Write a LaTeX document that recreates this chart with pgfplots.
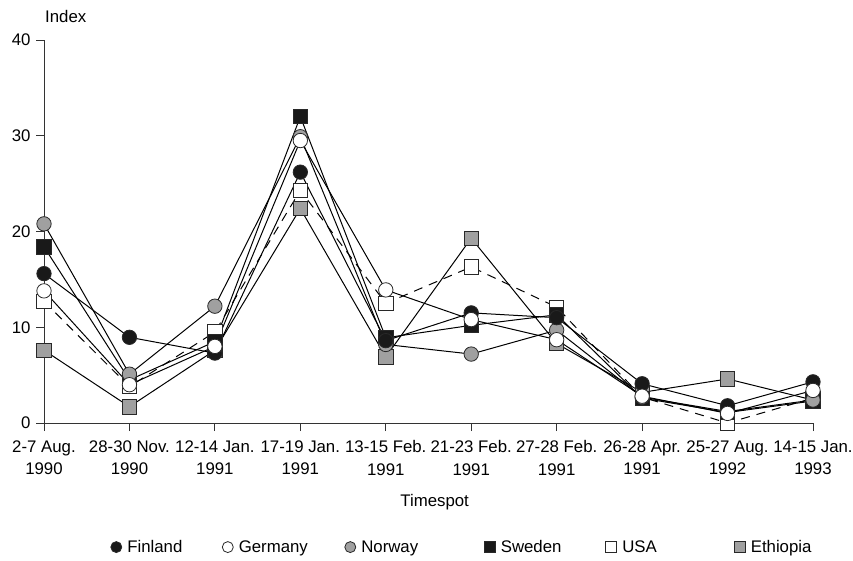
\documentclass[border=0pt]{standalone}
\usepackage{pgfplots}
\pgfplotsset{compat=1.18}
\usepackage{fontspec}
\setmainfont{Liberation Sans}
\definecolor{mgray}{RGB}{160,160,160}
\definecolor{mblack}{RGB}{25,25,25}
\definecolor{edge}{RGB}{40,40,40}
\begin{document}
\begin{tikzpicture}[x=1pt,y=1pt]
\begin{axis}[
  set layers, mark layer=axis foreground,
  at={(44pt,137pt)}, anchor=south west,
  scale only axis, width=769pt, height=383pt,
  xmin=0, xmax=9, ymin=0, ymax=40,
  clip=false,
  axis x line*=bottom, axis y line*=left,
  axis line style={line width=0.9pt, draw=black!80},
  tick style={line width=0.9pt, draw=black!80},
  tick align=outside, major tick length=8pt,
  xtick={0,...,9}, ytick={0,10,20,30,40},
  xticklabels={{2-7 Aug.\\1990},{28-30 Nov.\\1990},{12-14 Jan.\\1991},{17-19 Jan.\\1991},{13-15 Feb.\\1991},{21-23 Feb.\\1991},{27-28 Feb.\\1991},{26-28 Apr.\\1991},{25-27 Aug.\\1992},{14-15 Jan.\\1993}},
  xticklabel style={align=center, font=\fontsize{16.8}{22.7}\selectfont, yshift=-6pt},
  yticklabel style={font=\fontsize{16.8}{19}\selectfont, xshift=-2pt},
  /pgf/number format/assume math mode=true,
  xlabel={Timespot},
  xlabel style={font=\fontsize{16.8}{19}\selectfont, at={(0.508,-0.2193)}, anchor=base},
  every axis plot/.append style={line width=1pt, black},
  mark size=7.2pt,
  legend image code/.code={\draw[#1, only marks, mark size=5.5pt] plot coordinates {(0pt,0pt)};},
  legend style={at={(0.0827,-0.324)}, anchor=west, draw=none, fill=none, legend columns=6,
    font=\fontsize{16.8}{19}\selectfont,
    nodes={inner sep=0pt},
    /tikz/every odd column/.append style={column sep=5.5pt},
    /tikz/every even column/.append style={column sep=0pt}},
  fin/.style={mark=*, mark options={solid, fill=mblack, draw=edge, line width=0.8pt}},
  ger/.style={mark=*, mark options={solid, fill=white, draw=edge, line width=0.8pt}},
  nor/.style={mark=*, mark options={solid, fill=mgray, draw=edge, line width=0.8pt}},
  swe/.style={mark=square*, mark options={solid, fill=mblack, draw=edge, line width=0.8pt}},
  usa/.style={mark=square*, mark options={solid, fill=white, draw=edge, line width=0.8pt}},
  eth/.style={mark=square*, mark options={solid, fill=mgray, draw=edge, line width=0.8pt}},
]
% USA
\addplot[usa, forget plot, dash pattern=on 9pt off 7pt] coordinates {(0,12.7) (1,3.8) (2,9.5) (3,24.3) (4,12.5) (5,16.3) (6,12.1) (7,2.7) (8,0.0) (9,2.6)};
% Ethiopia
\addplot[eth, forget plot] coordinates {(0,7.6) (1,1.7) (2,7.6) (3,22.4) (4,6.9) (5,19.3) (6,8.3) (7,3.2) (8,4.6) (9,2.4)};
% Sweden
\addplot[swe, forget plot] coordinates {(0,18.4) (1,4.5) (2,8.5) (3,32.0) (4,8.9) (5,10.2) (6,11.3) (7,2.6) (8,1.1) (9,2.3)};
% Norway
\addplot[nor, forget plot] coordinates {(0,20.8) (1,5.1) (2,12.2) (3,29.9) (4,8.2) (5,7.2) (6,9.7) (7,2.7) (8,1.2) (9,2.4)};
% Finland
\addplot[fin, forget plot] coordinates {(0,15.6) (1,8.95) (2,7.3) (3,26.2) (4,8.6) (5,11.5) (6,11.0) (7,4.1) (8,1.8) (9,4.3)};
% Germany
\addplot[ger, forget plot] coordinates {(0,13.8) (1,4.0) (2,8.0) (3,29.5) (4,13.9) (5,10.8) (6,8.7) (7,2.8) (8,1.0) (9,3.4)};
\addlegendimage{fin}
\addlegendentry{\makebox[95pt][l]{Finland}}
\addlegendimage{ger}
\addlegendentry{\makebox[106pt][l]{Germany}}
\addlegendimage{nor}
\addlegendentry{\makebox[123pt][l]{Norway}}
\addlegendimage{swe}
\addlegendentry{\makebox[105pt][l]{Sweden}}
\addlegendimage{usa}
\addlegendentry{\makebox[112pt][l]{USA}}
\addlegendimage{eth}
\addlegendentry{Ethiopia}
\end{axis}
\node[anchor=base west, font=\fontsize{16.8}{19}\selectfont, inner sep=0pt] at (45,537) {Index};
\pgfresetboundingbox
\useasboundingbox (0,0) rectangle (853,560);
\end{tikzpicture}
\end{document}
